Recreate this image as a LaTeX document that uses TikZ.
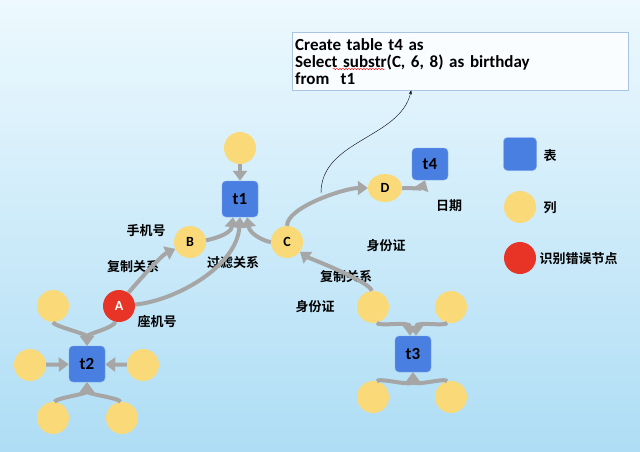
\documentclass[tikz,border=0pt]{standalone}
\usepackage{fontspec}
\setmainfont{Carlito}
\newfontfamily\cjk{Noto Sans CJK SC}[BoldFont={Noto Sans CJK SC Bold}]
\usetikzlibrary{arrows.meta,decorations.pathmorphing,shapes.geometric}
\definecolor{tblue}{HTML}{4A7FE2}
\definecolor{cyellow}{HTML}{FAD978}
\definecolor{ered}{HTML}{E83427}
\definecolor{rgray}{HTML}{A6A6A6}
\definecolor{bgtop}{HTML}{EDF9FE}
\definecolor{bgbot}{HTML}{AEDDF5}
\definecolor{boxline}{HTML}{A9C4E4}

\begin{document}
\begin{tikzpicture}[x=1pt,y=-1pt,
  tbl/.style={draw=tblue!70!white, fill=tblue, rounded corners=4pt, minimum size=36pt, inner sep=0pt, font=\bfseries\fontsize{17}{17}\selectfont},
  col/.style={circle, fill=cyellow, minimum size=32pt, inner sep=0pt, font=\bfseries\fontsize{14}{14}\selectfont},
  err/.style={circle, fill=ered, minimum size=32pt, inner sep=0pt, text=white, font=\bfseries\fontsize{14}{14}\selectfont},
  lbl/.style={font=\cjk\bfseries\fontsize{13}{13}\selectfont},
  rel/.style={draw=rgray, line width=4pt, -{Triangle[width=14pt,length=10pt]}},
]
\fill[top color=bgtop, bottom color=bgbot] (0,0) rectangle (640,452);
\useasboundingbox (0,0) rectangle (640,452);

% code box
\node[draw=boxline, fill=white!70!bgtop, anchor=north west, minimum width=336pt, minimum height=58pt,
  text width=330pt, align=left, inner sep=2pt, font=\bfseries\fontsize{17}{17}\selectfont] (code) at (292,32)
  {Create table t4 as\\ Select substr(C, 6, 8) as birthday\\ from\ \ t1};
\draw[red, thin, decorate, decoration={snake, amplitude=0.8pt, segment length=3pt}] (333,69) -- (385,69);

% tables
\node[tbl] (t1) at (240,199) {t1};
\node[tbl, minimum height=32pt] (t4) at (430,164) {t4};
\node[tbl] (t2) at (87,364) {t2};
\node[tbl] (t3) at (413,354) {t3};

% columns
\node[col] (top1) at (240,148) {};
\node[col] (B) at (190,242) {B};
\node[col] (C) at (287,242) {C};
\node[col, minimum width=34pt, minimum height=28pt, ellipse] (D) at (385,188) {D};
\node[err] (A) at (119,306) {A};

\node[col] (c2a) at (53,306) {};
\node[col] (c2b) at (30,365) {};
\node[col] (c2c) at (143,365) {};
\node[col] (c2d) at (53,418) {};
\node[col] (c2e) at (122,418) {};

\node[col] (c3a) at (373,307) {};
\node[col] (c3b) at (451,307) {};
\node[col] (c3c) at (373,397) {};
\node[col] (c3d) at (451,397) {};

% labels
\node[lbl] at (146,231) {手机号};
\node[lbl] at (133,267) {复制关系};
\node[lbl] at (233,263) {过滤关系};
\node[lbl] at (157,321) {座机号};
\node[lbl] at (386,246) {身份证};
\node[lbl] at (346,277) {复制关系};
\node[lbl] at (315,307) {身份证};
\node[lbl] at (449,206) {日期};

% legend
\node[tbl, minimum size=33pt] (lg1) at (520,154) {};
\node[lbl, anchor=west] at (540,156) {表};
\node[col] (lg2) at (520,207) {};
\node[lbl, anchor=west] at (540,208) {列};
\node[err] (lg3) at (520,258) {};
\node[lbl, anchor=west] at (536,259) {识别错误节点};

% relations
\path[rel] (top1) -- (t1);
\path[rel] (B) .. controls +(18,-2) and +(-2,18) .. ([xshift=-7pt]t1.south);
\path[rel] (A) .. controls +(10,-14) and +(-30,14) .. (B);
\path[rel] (A) .. controls +(55,-5) and +(-3,50) .. (t1.south);
\path[rel] (C) .. controls +(-20,0) and +(3,18) .. ([xshift=7pt]t1.south);
\path[rel] (C) .. controls +(0,-35) and +(-40,0) .. (D);
\path[rel] (D) .. controls +(15,0) and +(-3,8) .. ([xshift=-5pt]t4.south);
\path[rel] (c3a) .. controls +(-2,-25) and +(20,15) .. (C);

\path[rel] (c2a) .. controls +(0,20) and +(0,-12) .. (t2.north);
\path[rel] (A) .. controls +(-5,22) and +(0,-12) .. (t2.north);
\path[rel] (c2b) -- (t2);
\path[rel] (c2c) -- (t2);
\path[rel] (c2d) .. controls +(2,-20) and +(0,12) .. (t2.south);
\path[rel] (c2e) .. controls +(-2,-20) and +(0,12) .. (t2.south);

\path[rel] (c3a) .. controls +(5,20) and +(0,-15) .. ([xshift=-3pt]t3.north);
\path[rel] (c3b) .. controls +(-5,20) and +(0,-15) .. ([xshift=3pt]t3.north);
\path[rel] (c3c) .. controls +(5,-20) and +(0,15) .. (t3.south);
\path[rel] (c3d) .. controls +(-5,-20) and +(0,15) .. (t3.south);

% pointer to sql
\coordinate (ptr) at (321,193);
\draw[thin, -{Stealth[length=4pt,width=3pt]}] (ptr) .. controls +(0,-53) and +(-11,48) .. ([xshift=-49pt]code.south);
\end{tikzpicture}
\end{document}
